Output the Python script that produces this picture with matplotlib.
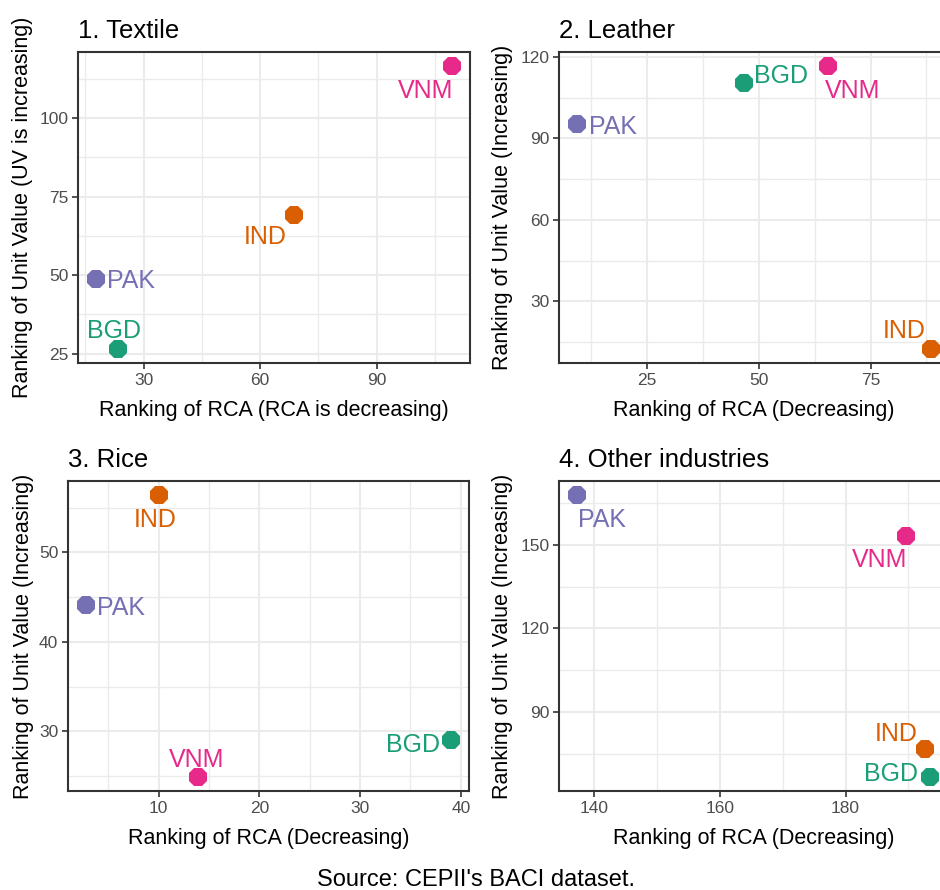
import matplotlib
matplotlib.use("Agg")
import matplotlib.pyplot as plt
from matplotlib.ticker import MultipleLocator

plt.rcParams['font.family'] = ['Liberation Sans', 'DejaVu Sans']

countries = ["BGD", "IND", "PAK", "VNM"]
colors = {"BGD": "#1B9E77", "IND": "#D95F02", "PAK": "#7570B3", "VNM": "#E7298A"}

titles = ["1. Textile", "2. Leather", "3. Rice", "4. Other industries"]
xlabels = ["Ranking of RCA (RCA is decreasing)", "Ranking of RCA (Decreasing)",
           "Ranking of RCA (Decreasing)", "Ranking of RCA (Decreasing)"]
ylabels = ["Ranking of Unit Value (UV is increasing)", "Ranking of Unit Value (Increasing)",
           "Ranking of Unit Value (Increasing)", "Ranking of Unit Value (Increasing)"]

# RCA rank (x) and unit value rank (y), order BGD, IND, PAK, VNM
textile_rca = [23.4, 68.6, 17.7, 109.4]
textile_uv = [26.5, 69.1, 48.6, 116.5]
leather_rca = [46.6, 88.6, 9.2, 65.4]
leather_uv = [110.4, 12.5, 95.3, 116.6]
rice_rca = [39, 10, 2.8, 13.9]
rice_uv = [29, 56.4, 44.1, 24.9]
other_rca = [193.5, 192.6, 137.2, 189.7]
other_uv = [66.7, 76.9, 167.9, 153.3]

xs = [textile_rca, leather_rca, rice_rca, other_rca]
ys = [textile_uv, leather_uv, rice_uv, other_uv]
x_steps = [30, 25, 10, 20]
y_steps = [25, 30, 10, 30]

# label offsets in pixels (dx, dy) relative to the point, per panel
offsets = [
    {"BGD": (-4, 18), "IND": (-28, -22), "PAK": (35, -2), "VNM": (-27, -25)},
    {"BGD": (37, 7), "IND": (-27, 18), "PAK": (36, -3), "VNM": (25, -25)},
    {"BGD": (-38, -5), "IND": (-4, -25), "PAK": (35, -3), "VNM": (-1, 17)},
    {"BGD": (-39, 3), "IND": (-28, 15), "PAK": (25, -25), "VNM": (-27, -24)},
]

W, H = 940, 890
fig = plt.figure(figsize=(W / 100, H / 100), dpi=100)

# axes boxes in pixels: left, top, width, height
boxes = [(78, 52, 392, 311), (559, 52, 390, 311),
         (68, 481, 401, 310), (559, 481, 389, 310)]
ylab_x = [-0.115, -0.118, -0.086, -0.118]

for i in range(4):
    l, t, w, h = boxes[i]
    ax = fig.add_axes([l / W, 1 - (t + h) / H, w / W, h / H])
    x, y = xs[i], ys[i]
    for j, c in enumerate(countries):
        ax.plot(x[j], y[j], marker='8', markersize=14.5, color=colors[c],
                markeredgewidth=0, linestyle='none', zorder=3)
        dx, dy = offsets[i][c]
        ax.annotate(c, (x[j], y[j]), xytext=(dx * 0.72, dy * 0.72),
                    textcoords='offset points', ha='center', va='center',
                    fontsize=18, color=colors[c], zorder=4)
    xr = max(x) - min(x)
    yr = max(y) - min(y)
    ax.set_xlim(min(x) - 0.05 * xr, max(x) + 0.05 * xr)
    ax.set_ylim(min(y) - 0.05 * yr, max(y) + 0.05 * yr)
    ax.xaxis.set_major_locator(MultipleLocator(x_steps[i]))
    ax.xaxis.set_minor_locator(MultipleLocator(x_steps[i] / 2))
    ax.yaxis.set_major_locator(MultipleLocator(y_steps[i]))
    ax.yaxis.set_minor_locator(MultipleLocator(y_steps[i] / 2))
    ax.grid(True, which='major', color='#EBEBEB', linewidth=1.5)
    ax.grid(True, which='minor', color='#EBEBEB', linewidth=1.0)
    ax.set_axisbelow(True)
    for s in ax.spines.values():
        s.set_color('#333333')
        s.set_linewidth(1.5)
    ax.tick_params(which='major', length=4, width=1.2, color='#333333',
                   labelsize=12.5, labelcolor='#4D4D4D', pad=3)
    ax.tick_params(which='minor', length=0)
    ax.set_xlabel(xlabels[i], fontsize=15.5, color='black')
    ax.set_ylabel(ylabels[i], fontsize=15.5, color='black')
    ax.xaxis.set_label_coords(0.5, -37 / h, transform=ax.transAxes)
    ax.yaxis.set_label_coords(ylab_x[i], 0.5, transform=ax.transAxes)
    ax.set_title(titles[i], loc='left', fontsize=18.5, pad=10)

fig.text(476 / W, 1 - 880 / H, "Source: CEPII's BACI dataset.", ha='center',
         va='center', fontsize=17)

fig.savefig("out.png", dpi=100)
